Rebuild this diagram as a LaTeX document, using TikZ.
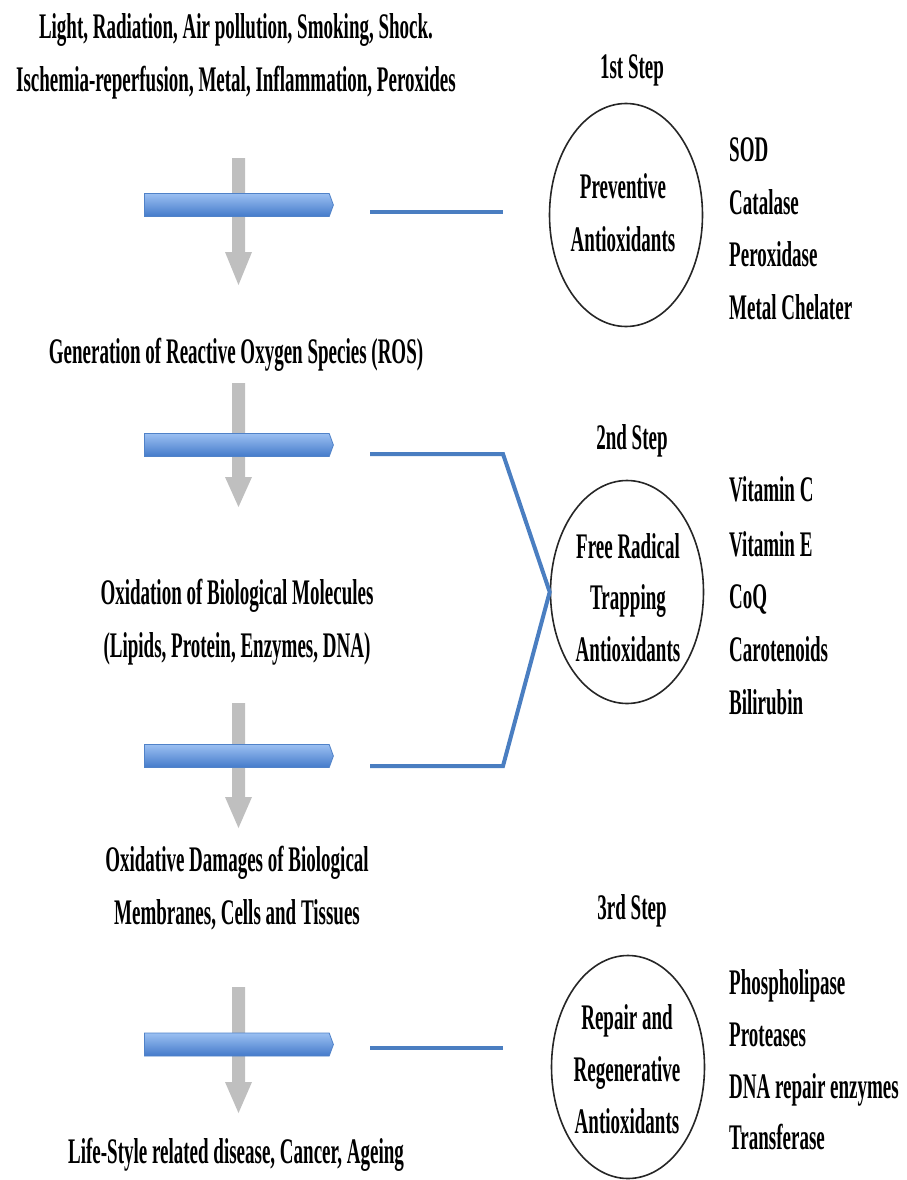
\documentclass[tikz,border=0pt]{standalone}
\usepackage{fontspec}
\setmainfont[FakeStretch=0.528]{Liberation Serif}
\usetikzlibrary{shapes.symbols,shapes.geometric}
\definecolor{lineblue}{RGB}{74,126,193}
\definecolor{barborder}{RGB}{80,130,200}
\definecolor{bartop}{RGB}{155,192,242}
\definecolor{barbot}{RGB}{68,122,202}
\definecolor{arrgray}{RGB}{191,191,191}
\newcommand\grayarr[3]{%
  \fill[arrgray] (232,#1) -- (245,#1) -- (245,#2) -- (252,#2) -- (238.5,#3) -- (225,#2) -- (232,#2) -- cycle;}
\begin{document}
\begin{tikzpicture}[x=1pt,y=-1pt,
  txt/.style={font=\bfseries\fontsize{36}{42}\selectfont, inner sep=0pt, anchor=base},
  bar/.style={signal, signal to=east, signal from=nowhere, signal pointer angle=140,
    minimum width=189pt, minimum height=23pt, inner sep=0pt, anchor=west,
    draw=barborder, line width=0.8pt, top color=bartop, bottom color=barbot},
  stepcircle/.style={ellipse, draw=black!85, line width=1.6pt, minimum width=153pt,
    minimum height=223pt, inner sep=0pt},
  conn/.style={draw=lineblue, line width=4pt}]
\useasboundingbox (0,0) rectangle (906,1180);

% left column texts
\node[txt] (t1a) at (236,39) {Light, Radiation, Air pollution, Smoking, Shock.};
\node[txt] (t1b) at (236,92) {Ischemia-reperfusion, Metal, Inflammation, Peroxides};
\node[txt] (t2) at (236,363) {Generation of Reactive Oxygen Species (ROS)};
\node[txt] (t3a) at (237,604) {Oxidation of Biological Molecules};
\node[txt] (t3b) at (237,657) {(Lipids, Protein, Enzymes, DNA)};
\node[txt] (t4a) at (237,871) {Oxidative Damages of Biological};
\node[txt] (t4b) at (237,924) {Membranes, Cells and Tissues};
\node[txt] (t5) at (236,1163) {Life-Style related disease, Cancer, Ageing};

% gray arrows
\grayarr{158}{252}{285}
\grayarr{383}{477}{507}
\grayarr{703}{797}{828}
\grayarr{987}{1082}{1113}

% blue bars
\node[bar] (b1) at (144,205) {};
\node[bar] (b2) at (144,445) {};
\node[bar] (b3) at (144,756) {};
\node[bar] (b4) at (144,1044.5) {};

% circles
\node[stepcircle] (c1) at (626,215) {};
\node[stepcircle] (c2) at (627,592) {};
\node[stepcircle] (c3) at (628,1067) {};

% connector end points
\coordinate (l1a) at (370,212);
\coordinate (l1b) at (503,212);
\coordinate (l2a) at (370,454);
\coordinate (l2b) at (503,454);
\coordinate (l3a) at (370,766);
\coordinate (l3b) at (503,766);
\coordinate (l4a) at (370,1048);
\coordinate (l4b) at (503,1048);

\draw[conn] (l1a) -- (l1b);
\draw[conn, line join=miter] (l2a) -- (l2b) -- (c2.west) -- (l3b) -- (l3a);
\draw[conn] (l4a) -- (l4b);

% step titles
\node[txt] (s1) at (632,79) {1st Step};
\node[txt] (s2) at (632,449) {2nd Step};
\node[txt] (s3) at (632,919) {3rd Step};

% circle texts
\node[txt] (c1a) at (623,198) {Preventive};
\node[txt] (c1b) at (623,251) {Antioxidants};
\node[txt] (c2a) at (628,558) {Free Radical};
\node[txt] (c2b) at (628,609) {Trapping};
\node[txt] (c2c) at (628,661) {Antioxidants};
\node[txt] (c3a) at (627,1029) {Repair and};
\node[txt] (c3b) at (627,1081) {Regenerative};
\node[txt] (c3c) at (627,1133) {Antioxidants};

% lists
\begin{scope}[every node/.style={txt, anchor=base west}]
\node (p1) at (729,161) {SOD};
\node (p2) at (729,214) {Catalase};
\node (p3) at (729,266) {Peroxidase};
\node (p4) at (729,319) {Metal Chelater};
\node (r1) at (729,501) {Vitamin C};
\node (r2) at (729,556) {Vitamin E};
\node (r3) at (729,608) {CoQ};
\node (r4) at (729,661) {Carotenoids};
\node (r5) at (729,714) {Bilirubin};
\node (q1) at (729,994) {Phospholipase};
\node (q2) at (729,1046) {Proteases};
\node (q3) at (729,1098) {DNA repair enzymes};
\node (q4) at (729,1149) {Transferase};
\end{scope}
\end{tikzpicture}
\end{document}
